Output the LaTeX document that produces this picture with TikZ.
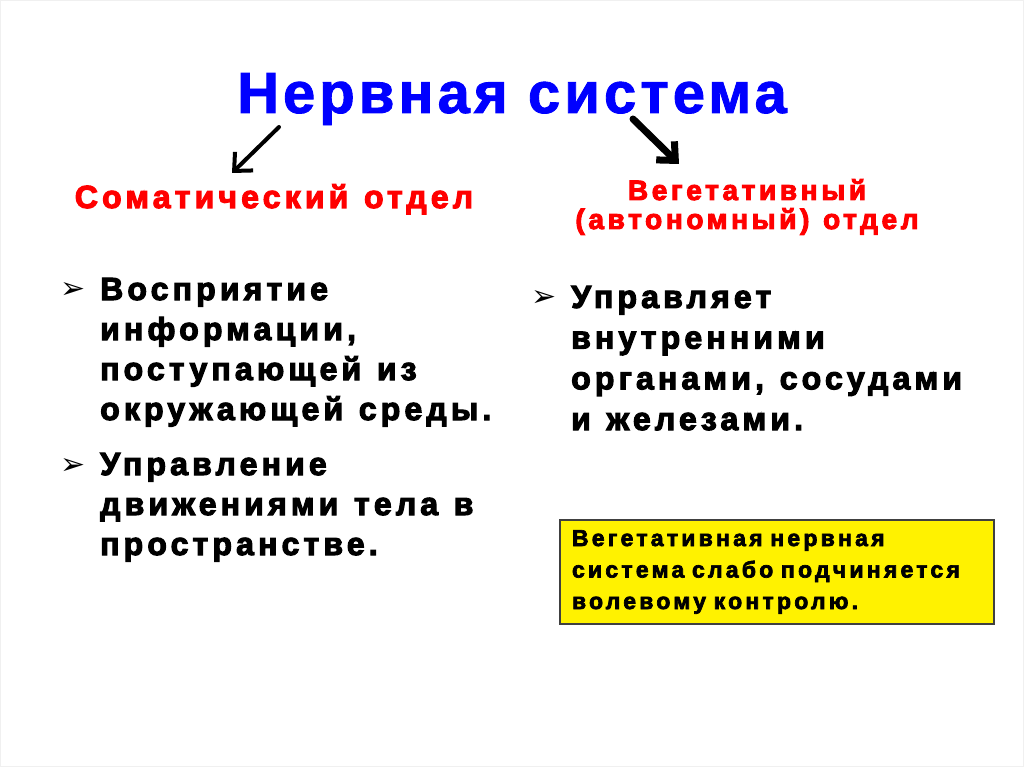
\documentclass[tikz,border=0pt]{standalone}
\usepackage{fontspec}
\setmainfont{Liberation Sans}
\newfontfamily\heavy{Liberation Sans Bold}[LetterSpace=13, FakeBold=3.5, WordSpace=1.2]
\newfontfamily\heavywide{Liberation Sans Bold}[LetterSpace=14, FakeBold=3, WordSpace=1.6]
\newfontfamily\titlefont{Liberation Sans Bold}[LetterSpace=7, FakeBold=1.5]
\newfontfamily\dingfont{DejaVu Sans}
\usetikzlibrary{positioning,arrows.meta}
\tikzset{
  heading/.style={text=red, font=\heavy\fontsize{28}{29}\selectfont, align=center, inner sep=0pt, anchor=base},
  itemtext/.style={font=\heavy\fontsize{32}{40}\selectfont, align=left, inner sep=0pt, anchor=base west},
  bulletmark/.style={font=\dingfont\fontsize{30}{30}\selectfont, inner sep=0pt},
  branch/.style={-{Straight Barb[length=14pt,width=26pt]}, line cap=round, line join=round},
}
\begin{document}
\begin{tikzpicture}[x=1pt,y=-1pt]
  \useasboundingbox (0,0) rectangle (1024,767);
  \draw[black!6] (0.5,0.5) rectangle (1023.5,766.5);

  \node[font=\titlefont\fontsize{58}{60}\selectfont, text=blue, inner sep=0pt, anchor=base] (title) at (512,113) {Нервная система};

  \node[heading, font=\heavy\fontsize{32}{34}\selectfont] (soma) at (274,208) {Соматический отдел};
  \node[heading] (veg) at (747,229) {Вегетативный\\(автономный) отдел};

  \coordinate (somaStart) at (279,127);
  \coordinate (somaTip) at (232,173);
  \coordinate (vegStart) at (633,119);
  \coordinate (vegTip) at (679,164);
  \draw[branch, line width=4pt] (somaStart) -- (somaTip);
  \draw[branch, line width=7pt] (vegStart) -- (vegTip);

  % left column (base = last line)
  \node[itemtext] (soma1) at (100,420) {Восприятие\\информации,\\поступающей из\\окружающей среды.};
  \node[itemtext] (soma2) at (100,555) {Управление\\движениями тела в\\пространстве.};
  \node[bulletmark] (b1) at (73,291) {➢};
  \node[bulletmark] (b2) at (73,466) {➢};

  % right column
  \node[itemtext, font=\heavy\fontsize{32}{40.7}\selectfont] (veg1) at (571,430) {Управляет\\внутренними\\органами, сосудами\\и железами.};
  \node[bulletmark] (b3) at (544,299) {➢};

  \node[fill=yellow, draw=black!75, line width=1.2pt, minimum width=434pt, minimum height=104pt,
        text width=410pt, inner xsep=12pt, align=left, font=\heavywide\fontsize{23}{31.5}\selectfont] (note) at (777,572)
    {Вегетативная нервная\\система слабо подчиняется\\волевому контролю.};
\end{tikzpicture}
\end{document}
